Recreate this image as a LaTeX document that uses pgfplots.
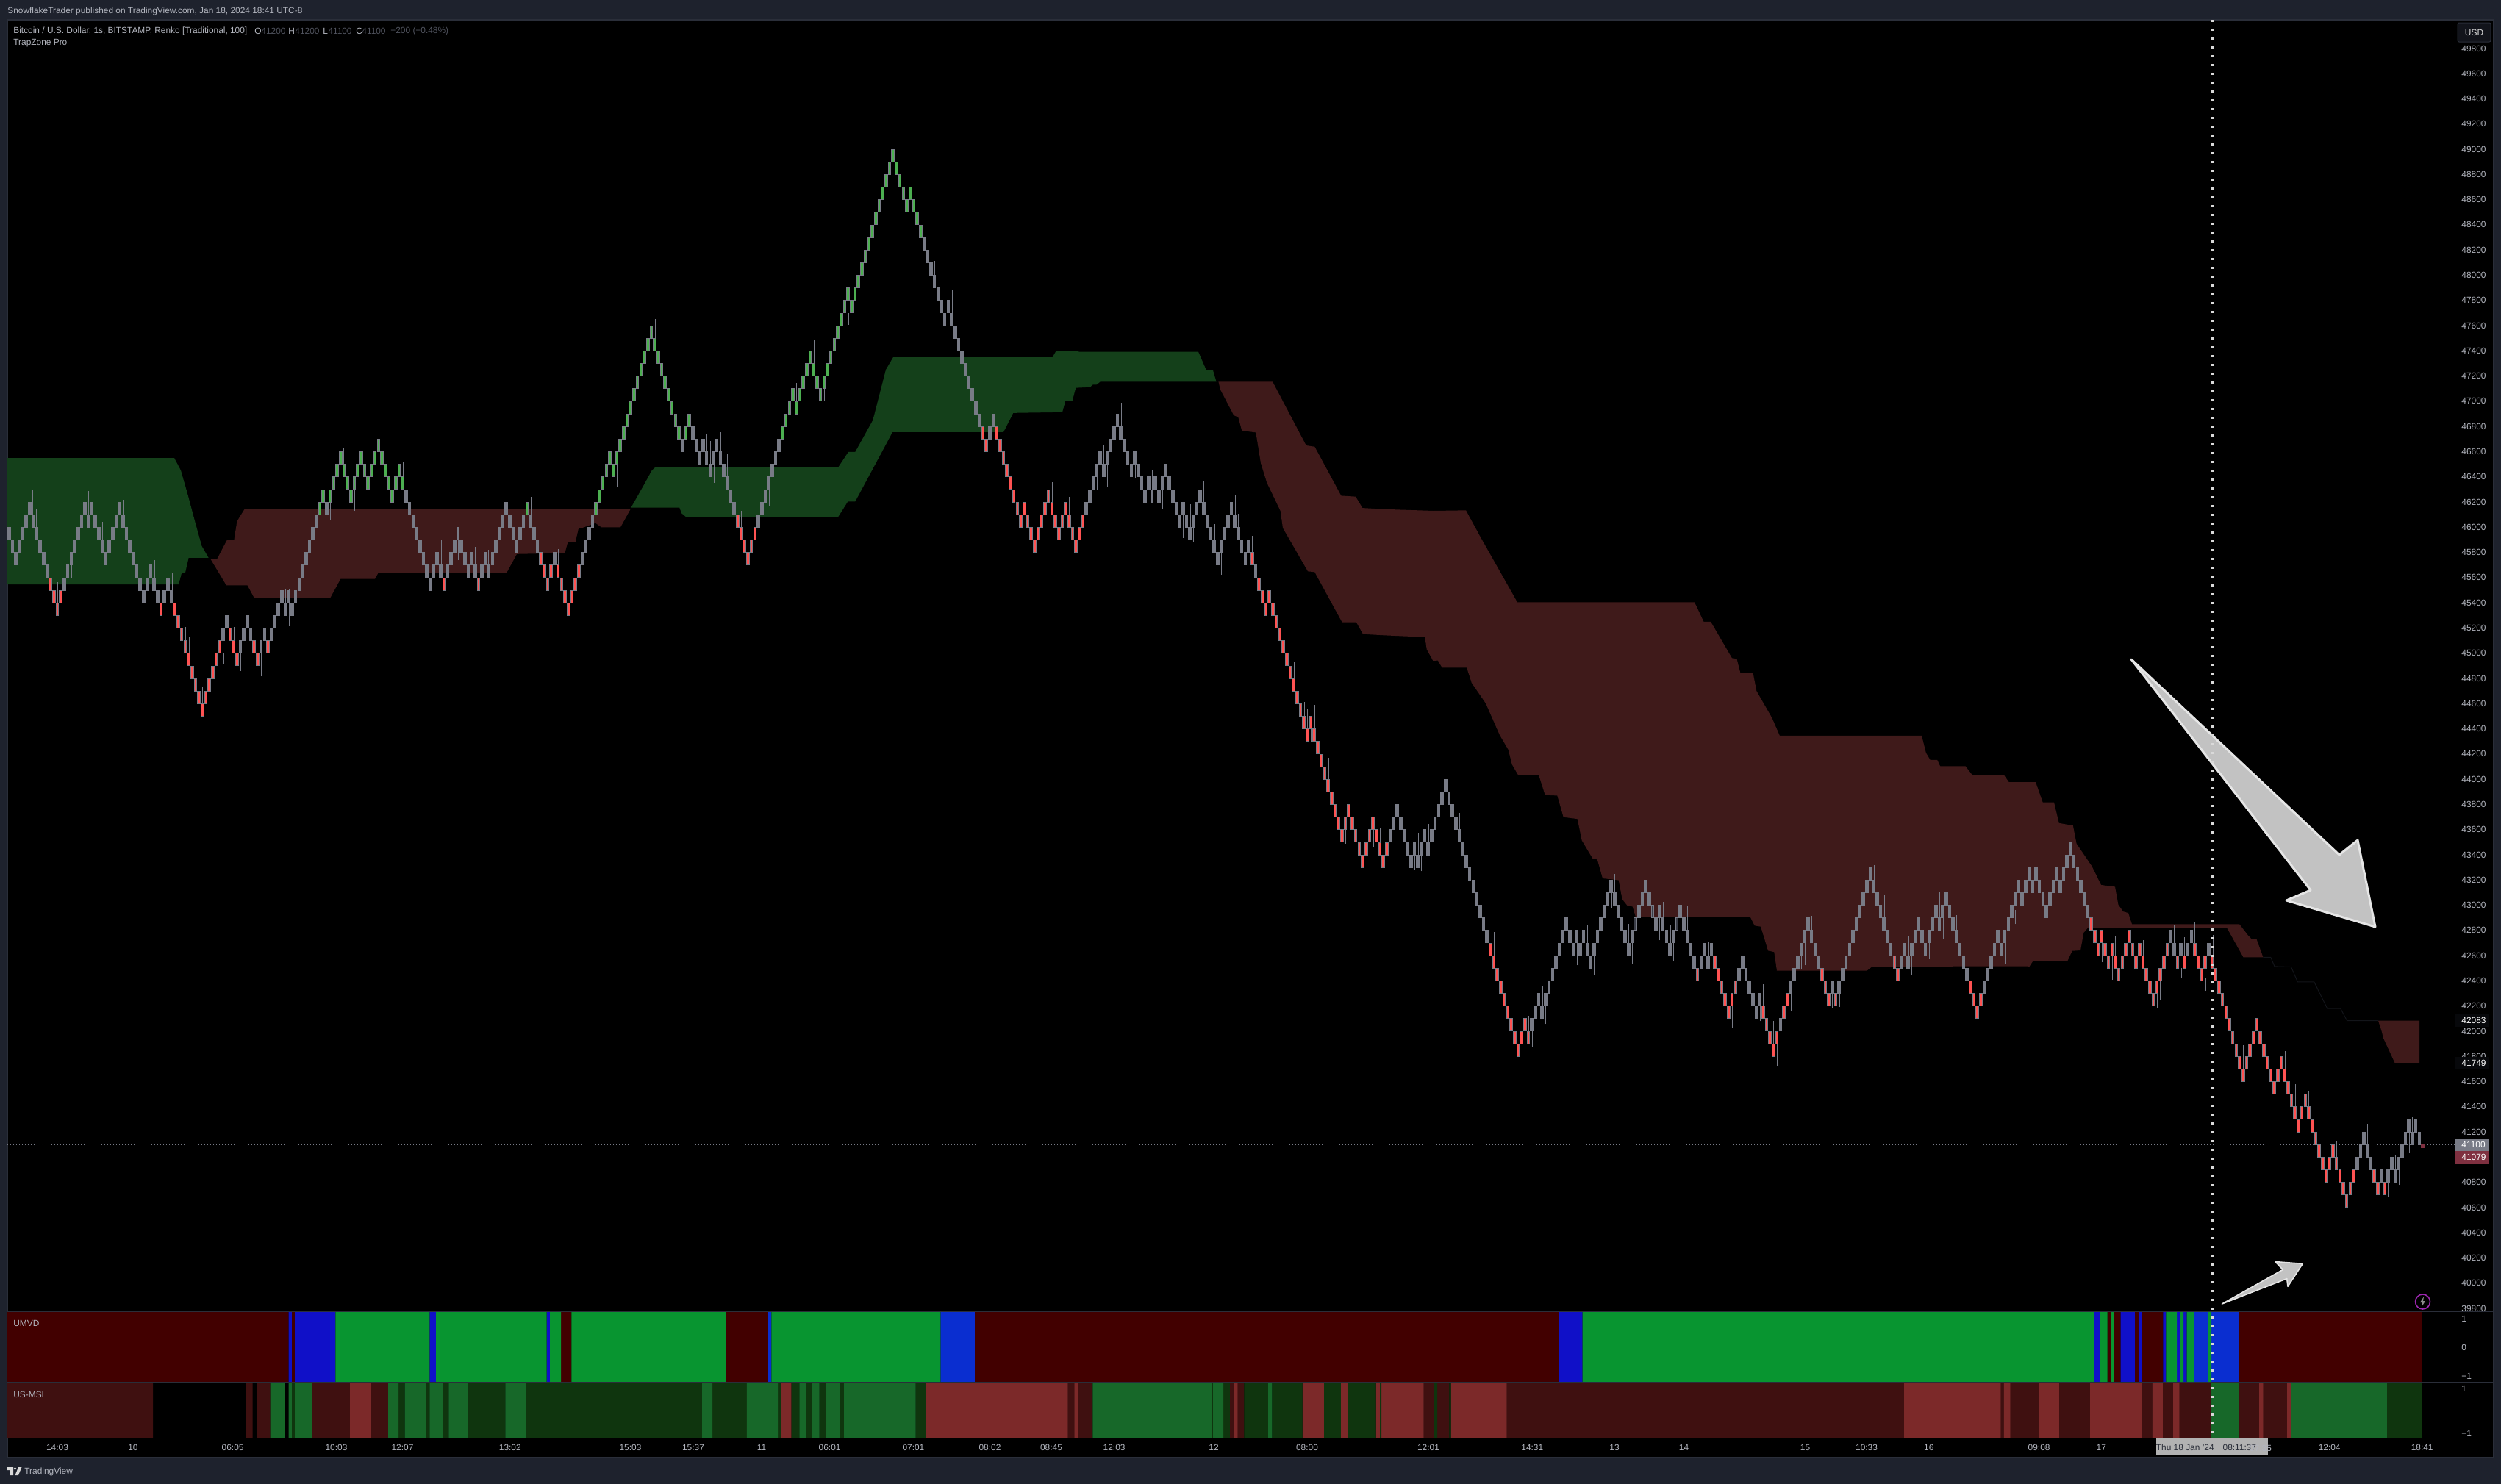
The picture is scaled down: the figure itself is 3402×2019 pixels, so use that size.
\documentclass[border=0pt]{standalone}
\usepackage{fontspec}
\setmainfont{Liberation Sans}
\usepackage{pgfplots}
\pgfplotsset{compat=1.18}
\definecolor{frame}{HTML}{1E222D}
\definecolor{edge}{HTML}{2A2E39}
\definecolor{txt}{HTML}{B2B5BE}
\definecolor{dimtxt}{HTML}{50535E}
\definecolor{brickgray}{HTML}{787B86}
\definecolor{brickdark}{HTML}{3A3D47}
\definecolor{brickred}{HTML}{FF5252}
\definecolor{brickgreen}{HTML}{4CAF50}
\definecolor{cloudgreen}{HTML}{14401A}
\definecolor{cloudred}{HTML}{3F1A1A}
\definecolor{umred}{HTML}{420000}
\definecolor{umblue}{HTML}{1010C8}
\definecolor{umblueb}{HTML}{0A2ED0}
\definecolor{umgreen}{HTML}{089530}
\definecolor{msD}{HTML}{3F1010}
\definecolor{msL}{HTML}{7C2929}
\definecolor{msE}{HTML}{0F350E}
\definecolor{msM}{HTML}{176829}
\definecolor{badgered}{HTML}{7F3040}
\definecolor{iconpurple}{HTML}{9C27B0}
\newcommand\fs{\fontsize{5.95pt}{6.5pt}\selectfont}
\pgfdeclareplotmark{brick}{\pgfpathrectangle{\pgfpoint{-0.9pt}{-4.25pt}}{\pgfpoint{1.8pt}{8.5pt}}\pgfusepathqfillstroke}
\pgfplotsset{panel/.style={scale only axis,width=1666.5pt,xmin=10,xmax=3343,
  axis line style={draw=none},tick style={draw=none},major tick length=0pt,
  scaled y ticks=false,scaled x ticks=false,
  ytick pos=right,yticklabel pos=right,
  yticklabel style={anchor=west,inner sep=0pt,xshift=2.5pt,font=\fs,text=txt},
  xticklabel style={inner sep=0pt,yshift=-4.6pt,font=\fs,text=txt},
  xtick=\empty}}
\begin{document}
\begin{tikzpicture}
\begin{scope}[x=0.5pt,y=-0.5pt]
\path[use as bounding box] (0,0) rectangle (3402,2019);
\fill[frame] (0,0) rectangle (3402,2019);
\fill[black] (10,27) rectangle (3392,1983);
\draw[edge,line width=1pt] (10,27) -- (3392,27) -- (3392,1983) -- (10,1983) -- cycle;
\end{scope}

\begin{axis}[panel,at={(5pt,-892pt)},anchor=south west,height=878.5pt,ymin=39777,ymax=50027,
  ytick={39800,40000,...,49800},
  /pgf/number format/fixed,/pgf/number format/precision=0,/pgf/number format/1000 sep={},/pgf/number format/assume math mode=true]
% cloud
\addplot[fill=cloudgreen,draw=none] coordinates {(10,46550)(237,46550)(246,46451)(256,46246)(264,46071)(274.5,45850)(283.7,45757)(256.6,45757)(252,45640)(247,45634)(243,45546)(10,45546)} --cycle;
\addplot[fill=cloudred,draw=none] coordinates {(286.7,45745)(295,45745)(308.7,45897)(318.4,45897)(322.4,46047)(332.7,46144)(857.7,46144)(844,46000)(818,46000)(810,46033)(790,45991)(787,45991)(782.7,45882)(772.4,45882)(768.4,45795)(703,45787)(688.8,45635)(514.3,45635)(510,45590)(463.3,45590)(449,45437)(346,45437)(336.7,45538)(308,45538)} --cycle;
\addplot[fill=cloudgreen,draw=none] coordinates {(858.3,46155)(876.7,46344)(886.7,46451)(891,46474)(1140,46474)(1154,46597)(1163.3,46597)(1187.3,46849)(1205,47250)(1215,47349)(1431.7,47349)(1436.7,47400)(1463.3,47400)(1468.3,47392)(1630,47392)(1641,47245)(1650,47245)(1654.5,47155)(1560,47155)(1496.7,47155)(1491.7,47132)(1486.7,47132)(1482.7,47112)(1463.3,47106)(1458.7,47003)(1449.3,47003)(1445,46913)(1378.3,46907)(1365,46755)(1214,46755)(1200,46602)(1163.3,46204)(1153.3,46204)(1140,46081)(933.3,46081)(927.3,46110)(924.3,46155)} --cycle;
\addplot[fill=cloudred,draw=none] coordinates {(1657.4,47155)(1731,47155)(1736.7,47092)(1776.7,46649)(1788.3,46639)(1824.3,46250)(1844,46243)(1853.3,46153)(1883.3,46143)(1950,46130)(1994,46134)(2013.3,45927)(2064,45404)(2305,45404)(2317.5,45250)(2327,45250)(2355.8,44962)(2362.5,44955)(2367.3,44844)(2384.5,44844)(2389.3,44700)(2410.3,44487)(2420.8,44346)(2614,44346)(2619.8,44209)(2625.6,44153)(2635.2,44153)(2639,44104)(2673.4,44104)(2683,44032)(2726,44032)(2732.7,43976)(2769,43976)(2778.7,43816)(2794,43816)(2800.7,43652)(2819.8,43632)(2824.6,43488)(2845.6,43308)(2858,43161)(2877,43146)(2881.4,43004)(2888,42950)(2895,42938)(2900,42849)(3046,42850)(3058,42760)(3063,42730)(3069.5,42730)(3078.4,42587)(3051.5,42587)(3029,42822)(2847.8,42822)(2841,42827)(2834.3,42782)(2830,42642)(2818.7,42637)(2812,42554)(2765,42554)(2760.5,42514)(2752.8,42516)(2546.7,42513)(2539.3,42480)(2417,42480)(2413.3,42629)(2405,42639)(2400,42736)(2395,42830)(2386.7,42838)(2381,42905)(2225,42905)(2220.7,42989)(2213.3,42999)(2206.7,43047)(2201.7,43199)(2180,43213)(2172.7,43364)(2166.7,43368)(2151.7,43514)(2145.7,43685)(2126.7,43699)(2118.3,43870)(2101.7,43874)(2093.3,44030)(2065,44034)(2056.7,44117)(2051.7,44234)(2040,44350)(2021,44602)(2001.8,44765)(1995.1,44886)(1961.6,44886)(1955.9,44942)(1949.3,44940)(1940.7,45031)(1938.3,45128)(1883.3,45142)(1854,45152)(1845,45245)(1825.7,45245)(1788.3,45644)(1779,45650)(1745,45994)(1741.7,46130)(1723.3,46353)(1715,46509)(1708.3,46752)(1689.3,46766)(1684.3,46873)(1678.3,46888)(1660,47092)} --cycle;
\addplot[fill=cloudred,draw=none] coordinates {(3235,42083)(3291,42083)(3291,41749)(3257.5,41749)(3242,41945)(3239.6,42000)} --cycle;
\addplot[color=edge!45!black,line width=.5pt] coordinates {(3078.4,42587)(3088.7,42587)(3094,42514)(3116.5,42510)(3125.4,42391)(3147.8,42391)(3165.7,42180)(3183.7,42180)(3192.6,42083)(3235,42083)};
\addplot[color=brickgray,line width=.5pt,dash pattern=on .5pt off 1.5pt] coordinates {(10,41100)(3343,41100)};
% wicks
\addplot[draw=none,mark=none,error bars/.cd,y dir=plus,y explicit,error mark=none,error bar style={line width=.5pt,draw=brickgray,solid}] table[x=x,y=lo,y error plus expr=\thisrow{hi}-\thisrow{lo},row sep=\\]{
x lo hi\\
44.9 46100 46295\\50 46000 46143\\78.6 45400 45566\\97 45600 45702\\111 45867 46000\\120.4 46100 46285\\130 46100 46233\\139.3 45900 46042\\149 45650 45800\\167 46100 46217\\210.7 45600 45737\\234 45500 45638\\252 45100 45206\\257.7 45000 45128\\275.5 44600 44735\\304.6 44918 45000\\318.4 45100 45206\\327.6 44860 45000\\341.3 45200 45400\\355.6 44817 45000\\388 45400 45507\\393 45214 45508\\398 45300 45570\\402.6 45249 45400\\449 46062 46200\\467.8 46400 46626\\482.7 46130 46300\\534.7 46300 46480\\548.5 46400 46519\\600.5 45700 45896\\623.5 45740 46000\\646.4 45700 45844\\664.8 45700 45819\\722.4 46100 46240\\759.7 45700 45828\\
806.3 45809 46000\\839.7 46324 46500\\881.7 47281 47400\\891.3 47500 47652\\942.3 46800 46950\\961.7 46600 46742\\966.3 46500 46684\\971.3 46353 46500\\980.3 46600 46752\\989.3 46400 46587\\1008.3 46000 46130\\1036.3 45974 46100\\1046.3 46168 46300\\1083.3 47000 47143\\1107.3 47300 47481\\1121.7 47000 47100\\1154.3 47607 47700\\
1271.3 48000 48113\\1295.3 47700 47886\\1327.3 47000 47160\\1346.3 46552 46700\\1431.3 46200 46357\\1436.3 46100 46256\\1454.3 46100 46241\\1492.3 46295 46400\\1501.3 46500 46655\\1506.3 46324 46500\\1525.3 46800 46985\\1544.3 46392 46500\\
1550.7 46400 46500\\1567.3 46300 46455\\1572.3 46149 46200\\1576.7 46300 46490\\1581.7 46143 46300\\1609.7 45916 46100\\1614.3 46100 46256\\1619.3 46000 46182\\1623.3 45887 46000\\1637.3 46200 46363\\1652.3 45900 46023\\1661.3 45624 45800\\1670.7 45857 46000\\1680.3 46100 46252\\1684 46000 46106\\1703.3 45800 45930\\1708.3 45700 45877\\1731.3 45400 45562\\1760.3 44800 44928\\1774.3 44500 44613\\1778.3 44400 44560\\1783 44292 44400\\1788.3 44400 44588\\
1807.3 44000 44170\\1830.3 43489 43600\\1868.3 43466 43600\\1877.3 43500 43611\\1886.3 43285 43400\\1924.3 43281 43400\\1929.3 43400 43573\\1933 43269 43400\\1943.3 43500 43644\\1980.3 43700 43860\\1985.3 43600 43732\\1999.3 43300 43450\\2032.3 42600 42785\\2079.3 42000 42124\\2084.3 41875 42000\\2098.3 42200 42357\\2102.3 42056 42200\\2135.7 42800 42960\\2145.3 42522 42700\\2150 42700 42824\\2159.3 42700 42838\\2168.3 42445 42600\\2196.3 43100 43246\\2192.3 42980 43100\\2215.3 42700 42853\\
2220.3 42532 42700\\2248.3 43000 43187\\2257.3 42721 42900\\2262.3 42900 43024\\2272.3 42700 42837\\2276.3 42561 42700\\2290.3 42900 43059\\2295.3 42800 42989\\2323.3 42600 42707\\2356.3 42025 42200\\2394.3 42079 42300\\2398.3 42200 42371\\2412.7 41900 42079\\2417.3 41725 41900\\2436.7 42163 42300\\2450.7 42493 42600\\2455.3 42522 42700\\2464.3 42800 42913\\2492.3 42182 42300\\2497.7 42300 42429\\2502.3 42192 42300\\2549.3 43200 43316\\2563.3 42900 43082\\2596.3 42600 42756\\2600.3 42450 42600\\2614.3 42800 42902\\2624.3 42571 42700\\2638.3 42900 43100\\2643.3 42730 42900\\2652.3 43000 43129\\2661.3 42800 42921\\2694.3 42071 42200\\
2727.3 42532 42800\\2741.2 42849 42960\\2769.4 42838 43100\\2788.2 42836 42985\\2859 42548 42700\\2863 42600 42822\\2873.3 42407 42600\\2877.3 42600 42760\\2886.7 42363 42500\\2901.5 42700 42898\\2915.4 42600 42726\\2934.7 42180 42300\\2938.7 42253 42400\\2957.5 42700 42845\\2962.4 42600 42782\\2967.4 42421 42500\\2971.4 42600 42749\\2985.7 42700 42871\\3000 42320 42425\\3010 42600 42764\\3037.2 42000 42128\\3051.5 41700 41889\\3094 41500 41600\\3098.6 41459 41600\\3108.4 41700 41845\\3122.3 41400 41577\\3140.2 41400 41528\\3169.3 40789 40900\\3178.7 41000 41124\\3220.4 41100 41264\\3245 40800 40952\\3248.6 40689 40800\\3258.4 40900 41012\\3263.4 40778 40900\\3277.7 41034 41200\\3281.7 41200 41320\\3286.7 41068 41200\\
};
% renko bricks, in order: mid price and colour class
\addplot[scatter,only marks,mark=brick,line width=.4pt,scatter src=explicit symbolic,
  scatter/classes={k={mark=brick,draw=brickgray,fill=brickgray},r={mark=brick,draw=brickgray,fill=brickred},g={mark=brick,draw=brickgray,fill=brickgreen},d={mark=brick,draw=brickgray,fill=brickdark}}]
  table[x expr=12.2+4.697*\coordindex,y=p,meta=c,row sep=\\]{
p c\\
45950 k\\45850 k\\45750 k\\45850 k\\45950 k\\46050 k\\46150 k\\46050 k\\45950 k\\45850 k\\45750 k\\45650 k\\
45550 r\\45450 r\\45350 r\\45450 r\\45550 k\\45650 k\\45750 k\\45850 k\\45950 k\\46050 k\\46150 k\\46050 k\\46150 k\\46050 k\\45950 k\\45850 k\\45750 k\\45850 k\\45950 k\\46050 k\\46150 k\\46050 k\\45950 k\\45850 k\\45750 k\\45650 k\\45550 k\\45450 k\\45550 k\\45650 k\\45550 k\\45450 k\\45350 r\\45450 k\\45550 k\\45450 k\\45350 r\\45250 r\\45150 r\\45050 r\\44950 r\\44850 r\\44750 r\\44650 r\\44550 r\\44650 r\\44750 r\\44850 r\\44950 r\\45050 r\\45150 k\\45250 k\\45150 r\\45050 r\\44950 r\\45050 k\\45150 k\\45250 k\\45150 k\\45050 r\\44950 r\\45050 k\\45150 k\\45050 r\\45150 k\\45250 k\\45350 k\\45450 k\\45350 k\\45450 k\\45350 k\\45450 k\\45550 k\\45650 k\\45750 k\\45850 k\\45950 k\\46050 k\\46150 g\\46250 g\\46150 k\\46250 g\\46350 g\\46450 g\\46550 g\\46450 g\\46350 g\\46250 g\\46350 g\\46450 g\\46550 g\\46450 g\\46350 g\\46450 g\\46550 g\\46650 g\\46550 g\\46450 g\\46350 g\\46250 g\\46350 g\\46450 g\\46350 g\\46250 k\\46150 k\\46050 k\\45950 k\\45850 k\\45750 k\\45650 k\\45550 k\\45650 k\\45750 k\\45650 k\\45550 r\\45650 k\\45750 k\\45850 k\\45950 k\\45850 k\\45750 k\\45650 k\\45750 k\\45650 k\\45550 r\\45650 k\\45750 k\\45650 k\\45750 k\\45850 k\\45950 k\\46050 k\\46150 k\\46050 k\\45950 k\\45850 k\\45950 k\\46050 k\\46150 g\\46050 k\\45950 k\\45850 k\\45750 r\\45650 r\\45550 r\\45650 r\\45750 k\\45650 r\\45550 r\\45450 r\\45350 r\\45450 r\\45550 r\\45650 r\\45750 k\\45850 k\\
45950 k\\46050 k\\46150 g\\46250 g\\46350 g\\46450 g\\46550 g\\46450 g\\46550 g\\46650 g\\46750 g\\46850 g\\46950 g\\47050 g\\47150 g\\47250 g\\47350 g\\47450 g\\47550 g\\47450 g\\47350 g\\47250 g\\47150 g\\47050 g\\46950 g\\46850 g\\46750 g\\46650 k\\46750 g\\46850 g\\46750 k\\46650 k\\46550 k\\46650 k\\46550 k\\46450 k\\46550 k\\46650 k\\46550 k\\46450 k\\46350 k\\46250 k\\46150 k\\46050 r\\45950 r\\45850 r\\45750 r\\45850 r\\45950 r\\46050 k\\46150 k\\46250 k\\46350 k\\46450 k\\46550 k\\46650 k\\46750 g\\46850 g\\46950 g\\47050 g\\46950 g\\47050 g\\47150 g\\47250 g\\47350 g\\47250 g\\47150 g\\47050 g\\47150 g\\47250 g\\47350 g\\47450 g\\47550 g\\47650 g\\47750 g\\47850 g\\47750 g\\47850 g\\47950 g\\48050 g\\48150 g\\48250 g\\48350 g\\48450 g\\48550 g\\
48650 g\\48750 g\\48850 g\\48950 g\\48850 g\\48750 g\\48650 g\\48550 g\\48650 g\\48550 g\\48450 g\\48350 g\\48250 k\\48150 k\\48050 k\\47950 k\\47850 k\\47750 k\\47650 k\\47750 k\\47650 k\\47550 k\\47450 k\\47350 k\\47250 k\\47150 k\\47050 k\\46950 k\\46850 k\\46750 r\\46650 r\\46750 k\\46850 k\\46750 r\\46650 r\\46550 r\\46450 r\\46350 r\\46250 r\\46150 r\\46050 r\\46150 r\\46050 r\\45950 r\\45850 r\\45950 r\\46050 r\\46150 r\\46250 r\\46150 r\\46050 r\\45950 r\\46050 r\\46150 r\\46050 r\\45950 r\\45850 r\\45950 r\\46050 r\\46150 k\\46250 k\\46350 k\\46450 k\\46550 k\\46450 k\\46550 k\\46650 k\\46750 k\\46850 k\\46750 k\\46650 k\\46550 k\\46450 k\\46550 k\\46450 k\\46350 k\\46250 k\\
46350 k\\46250 k\\46350 k\\46250 k\\46350 k\\46450 k\\46350 k\\46250 k\\46150 k\\46050 k\\46150 k\\46050 k\\45950 k\\46050 k\\46150 k\\46250 k\\46150 k\\46050 k\\45950 k\\45850 k\\45750 k\\45850 k\\45950 k\\46050 k\\46150 k\\46050 k\\45950 k\\45850 k\\45750 k\\45850 k\\45750 r\\45650 k\\45550 r\\45450 r\\45350 r\\45450 r\\45350 r\\45250 r\\45150 r\\45050 r\\44950 r\\44850 r\\44750 r\\44650 r\\44550 r\\44450 r\\44350 r\\44450 r\\44350 r\\44250 r\\44150 r\\44050 r\\
43950 r\\43850 r\\43750 r\\43650 r\\43550 r\\43650 r\\43750 r\\43650 r\\43550 r\\43450 r\\43350 r\\43450 r\\43550 r\\43650 r\\43550 r\\43450 r\\43350 r\\43450 r\\43550 k\\43650 k\\43750 k\\43650 k\\43550 k\\43450 k\\43350 k\\43450 k\\43350 k\\43450 k\\43550 k\\43450 k\\43550 k\\43650 k\\43750 k\\43850 k\\43950 k\\43850 k\\43750 k\\43650 k\\43550 k\\43450 k\\43350 k\\43250 k\\43150 k\\43050 k\\42950 k\\42850 k\\42750 k\\42650 r\\42550 r\\42450 r\\42350 r\\42250 r\\42150 r\\42050 r\\41950 r\\41850 r\\41950 r\\42050 r\\41950 r\\42050 k\\42150 k\\42250 k\\42150 k\\42250 k\\42350 k\\42450 k\\42550 k\\42650 k\\42750 k\\42850 k\\42750 k\\42650 k\\42750 k\\42650 k\\42750 k\\42650 k\\42550 k\\42650 k\\42750 k\\42850 k\\42950 k\\43050 k\\43150 k\\43050 k\\42950 k\\42850 k\\42750 k\\42650 k\\
42750 k\\42850 d\\42950 k\\43050 k\\43150 k\\43050 k\\42950 d\\42850 k\\42950 k\\42850 k\\42750 k\\42650 k\\42750 k\\42850 d\\42950 k\\42850 k\\42750 k\\42650 k\\42550 k\\42450 r\\42550 k\\42650 k\\42550 k\\42650 k\\42550 r\\42450 r\\42350 r\\42250 r\\42150 r\\42250 r\\42350 r\\42450 k\\42550 k\\42450 k\\42350 k\\42250 k\\42150 k\\42250 k\\42150 r\\42050 r\\41950 r\\41850 r\\41950 r\\42050 k\\42150 r\\42250 r\\42350 k\\42450 k\\42550 k\\42650 k\\42750 k\\42850 k\\42750 k\\42650 k\\42550 k\\42450 r\\42350 r\\42250 r\\42350 k\\42250 r\\42350 k\\42450 k\\42550 k\\42650 k\\42750 k\\42850 k\\42950 k\\43050 k\\43150 k\\43250 k\\43150 k\\43050 k\\42950 k\\42850 k\\42750 k\\42650 k\\42550 r\\42450 r\\42550 k\\42650 k\\42550 k\\42650 k\\42750 k\\42850 k\\42750 k\\42650 k\\42750 k\\42850 k\\42950 k\\42850 k\\42950 k\\43050 k\\42950 k\\42850 k\\42750 k\\42650 k\\42550 k\\42450 k\\42350 r\\42250 r\\42150 r\\42250 r\\42350 k\\42450 k\\42550 k\\42650 k\\42750 k\\
42650 k\\42750 k\\42850 k\\42950 k\\43050 k\\43150 k\\43050 k\\43150 k\\43250 k\\43150 k\\43250 k\\43150 k\\43050 k\\42950 k\\43050 k\\43150 k\\43250 k\\43150 k\\43250 k\\43350 k\\43450 k\\43350 k\\43250 k\\43150 k\\43050 k\\42950 k\\42850 r\\
42750 r\\42650 r\\42750 r\\42650 r\\42550 r\\42650 r\\42550 r\\42450 r\\42550 r\\42650 r\\42750 r\\42650 r\\42550 r\\42650 r\\42550 r\\42450 r\\42350 r\\42250 r\\42350 r\\42450 r\\42550 r\\42650 r\\42750 k\\42650 k\\42550 r\\42650 k\\42550 r\\42650 k\\42750 k\\42650 r\\42550 r\\42450 r\\42550 r\\42650 k\\42550 r\\42450 r\\42350 r\\42250 r\\42150 r\\42050 r\\41950 r\\41850 r\\41750 r\\41650 r\\41750 r\\41850 r\\41950 r\\42050 r\\41950 r\\41850 r\\41750 r\\41650 r\\41550 r\\41650 r\\41750 r\\41650 r\\41550 r\\41450 r\\41350 r\\41250 r\\41350 r\\41450 r\\41350 r\\41250 r\\41150 r\\41050 r\\40950 r\\40850 r\\40950 r\\41050 r\\40950 r\\40850 r\\40750 r\\40650 r\\40750 r\\40850 r\\40950 k\\41050 k\\41150 k\\41050 k\\40950 k\\40850 r\\40750 r\\40850 k\\40750 r\\40850 k\\40950 k\\40850 k\\40950 k\\41050 k\\41150 k\\41250 k\\41150 k\\41250 k\\41150 k\\
};
\addplot[only marks,mark=square*,mark size=1pt,color=badgered] coordinates {(3295.6,41085)};
\end{axis}

\begin{axis}[panel,at={(5pt,-940.5pt)},anchor=south west,height=48.5pt,ymin=-1.23,ymax=1.256,
  ytick={-1,0,1},yticklabels={−1,0,1}]
\addplot[const plot,fill=umred,draw=none] coordinates {(10,-2)(10,2)(392.5,-2)(396.8,2)(401,-2)(763.2,2)(777.3,-2)(987.6,2)(1044,-2)(1325.9,2)(2120,-2)(2866.6,2)(2871,-2)(2875.5,2)(2884.5,-2)(2903.8,2)(2909,-2)(2913.6,2)(2942.3,-2)(3045.3,2)(3294.3,-2)} --cycle;
\addplot[const plot,fill=umblue,draw=none] coordinates {(392.5,-2)(392.5,2)(396.8,-2)(401,2)(456.4,-2)(584.3,2)(593,-2)(743.7,2)(748,-2)(2120,2)(2152.7,-2)(2847.8,2)(2857.2,-2)(2884.5,2)(2903.8,-2)(2909,2)(2913.6,-2)(2942.3,2)(2946.3,-2)(2961,2)(2965,-2)(2970,2)(2974.5,-2)} --cycle;
\addplot[const plot,fill=umblueb,draw=none] coordinates {(1044,-2)(1044,2)(1049.4,-2)(1279.3,2)(1325.9,-2)(2984,2)(3003,-2)(3008,2)(3045.3,-2)} --cycle;
\addplot[const plot,fill=umgreen,draw=none] coordinates {(456.4,-2)(456.4,2)(584.3,-2)(593,2)(743.7,-2)(748,2)(763.2,-2)(777.3,2)(987.6,-2)(1049.4,2)(1279.3,-2)(2152.7,2)(2847.8,-2)(2857.2,2)(2866.6,-2)(2871,2)(2875.5,-2)(2946.3,2)(2961,-2)(2965,2)(2970,-2)(2974.5,2)(2984,-2)(3003,2)(3008,-2)} --cycle;
\end{axis}

\begin{axis}[panel,at={(5pt,-978pt)},anchor=south west,height=37.5pt,ymin=-1.197,ymax=1.262,
  ytick={-1,1},yticklabels={−1,1},
  xtick={78,181,316.6,457.5,547.5,693.8,857.5,943,1036,1128.6,1242.4,1346.5,1430,1515.6,1651,1778,1943,2084.3,2196,2290.5,2455.5,2539,2623.8,2773.6,2858.3,3168.7,3294.7},
  xticklabels={14:03,10,06:05,10:03,12:07,13:02,15:03,15:37,11,06:01,07:01,08:02,08:45,12:03,12,08:00,12:01,14:31,13,14,15,10:33,16,09:08,17,12:04,18:41}]
\addplot[const plot,fill=msD,draw=none] coordinates {(10,-2)(10,2)(208.2,-2)(335,2)(343.7,-2)(349,2)(367.5,-2)(423.9,2)(476,-2)(504,2)(528,-2)(1452.7,2)(1461.4,-2)(1466.8,2)(1486.3,-2)(1672.8,2)(1678.2,-2)(1683.6,2)(1692.3,-2)(1936.6,2)(1950.8,-2)(1955,2)(1971.4,-2)(2049.5,2)(2590.1,-2)(2721.5,2)(2725.8,-2)(2734.5,2)(2773.6,-2)(2800.8,2)(2843,-2)(2913.6,2)(2927.7,-2)(2941.9,2)(2956,-2)(2964.6,2)(3008,-2)(3045,2)(3073.2,-2)(3078.6,2)(3111.2,-2)} --cycle;
\addplot[const plot,fill=msL,draw=none] coordinates {(476,-2)(476,2)(504,-2)(1062.4,2)(1076.5,-2)(1259.8,2)(1452.7,-2)(1461.4,2)(1466.8,-2)(1678.2,2)(1683.6,-2)(1771.6,2)(1801,-2)(1823.8,2)(1833.5,-2)(1871.5,2)(1877,-2)(1879,2)(1936.6,-2)(1973.6,2)(2049.5,-2)(2590.1,2)(2721.5,-2)(2725.8,2)(2734.5,-2)(2773.6,2)(2800.8,-2)(2843,2)(2913.6,-2)(2927.7,2)(2941.9,-2)(2956,2)(2964.6,-2)(3073.2,2)(3078.6,-2)(3111.2,2)(3116.6,-2)} --cycle;
\addplot[const plot,fill=msE,draw=none] coordinates {(396.8,-2)(396.8,2)(401,-2)(542,2)(550.7,-2)(578.9,2)(584.3,-2)(602.8,2)(610.4,-2)(636.4,2)(687.3,-2)(715.5,2)(955,-2)(969.2,2)(1015.8,-2)(1058,2)(1062.4,-2)(1076.5,2)(1087.4,-2)(1096,2)(1104.7,-2)(1114.5,2)(1124.2,-2)(1142.7,2)(1148,-2)(1245.7,2)(1259.8,-2)(1647.9,2)(1650,-2)(1664,2)(1672.8,-2)(1692.3,2)(1725,-2)(1730.4,2)(1771.6,-2)(1801,2)(1823.8,-2)(1833.5,2)(1871.5,-2)(1877,2)(1879,-2)(1950.8,2)(1955,-2)(1971.4,2)(1973.6,-2)(3246.9,2)(3294.7,-2)} --cycle;
\addplot[const plot,fill=msM,draw=none] coordinates {(367.5,-2)(367.5,2)(387,-2)(392.5,2)(396.8,-2)(401,2)(423.9,-2)(528,2)(542,-2)(550.7,2)(578.9,-2)(584.3,2)(602.8,-2)(610.4,2)(636.4,-2)(687.3,2)(715.5,-2)(955,2)(969.2,-2)(1015.8,2)(1058,-2)(1087.4,2)(1096,-2)(1104.7,2)(1114.5,-2)(1124.2,2)(1142.7,-2)(1148,2)(1245.7,-2)(1486.3,2)(1647.9,-2)(1650,2)(1664,-2)(1725,2)(1730.4,-2)(3008,2)(3045,-2)(3116.6,2)(3246.9,-2)} --cycle;
\end{axis}

\begin{scope}[x=0.5pt,y=-0.5pt,every node/.style={inner sep=0pt,font=\fs}]
\draw[edge,line width=1pt] (10,1784) -- (3392,1784);
\draw[edge,line width=1pt] (10,1881) -- (3392,1881);
% arrows
\filldraw[fill=black!24,draw=white!90!black,line width=1.5pt,line join=round] (2899,897) -- (3143,1211) -- (3110,1225) -- (3231,1261) -- (3207,1143) -- (3182,1163) -- cycle;
\filldraw[fill=black!24,draw=white!90!black,line width=.8pt,line join=round] (3022.4,1774) -- (3105.3,1727.4) -- (3095,1716.6) -- (3132.2,1719.3) -- (3112,1750.3) -- (3110.7,1739.6) -- cycle;
% crosshair
\draw[black!15,line width=1.7pt,dash pattern=on 1.5pt off 4.5pt] (3009,27) -- (3009,1956);
% texts
\node[anchor=west,text=txt] at (10,15) {SnowflakeTrader published on TradingView.com, Jan 18, 2024 18:41 UTC-8};
\node[anchor=west,text=txt] at (18,42) {Bitcoin / U.S. Dollar, 1s, BITSTAMP, Renko [Traditional, 100]};
\node[anchor=west,text=txt] at (346,42) {O};
\node[anchor=west,text=dimtxt] at (355,42) {41200};
\node[anchor=west,text=txt] at (392,42) {H};
\node[anchor=west,text=dimtxt] at (401,42) {41200};
\node[anchor=west,text=txt] at (439,42) {L};
\node[anchor=west,text=dimtxt] at (446,42) {41100};
\node[anchor=west,text=txt] at (484,42) {C};
\node[anchor=west,text=dimtxt] at (492,42) {41100};
\node[anchor=west,text=dimtxt] at (531,42) {−200 (−0.48\%)};
\node[anchor=west,text=txt] at (18,59) {TrapZone Pro};
\node[anchor=west,text=txt] at (18,1800) {UMVD};
\node[anchor=west,text=txt] at (18,1897) {US-MSI};
% price badges
\filldraw[fill=frame!60!black,rounded corners=1pt,draw=edge,line width=.5pt] (3343,31) rectangle (3388,57);
\node[text=black!15] at (3365.5,44) {USD};
\fill[black!75!frame] (3340.4,1380) rectangle (3385,1397);
\node[anchor=west,text=white] at (3348,1388.5) {42083};
\fill[black!75!frame] (3340.4,1438) rectangle (3385,1454.5);
\node[anchor=west,text=white] at (3348,1446.3) {41749};
\fill[brickgray] (3340.4,1549) rectangle (3385,1566);
\node[anchor=west,text=white] at (3348,1557.5) {41100};
\fill[badgered] (3340.4,1566) rectangle (3385,1582.7);
\node[anchor=west,text=white] at (3348,1574.5) {41079};
% icon
\draw[iconpurple,line width=.8pt] (3295.5,1771) circle (10);
\fill[black!45] (3297,1764) -- (3292,1772) -- (3295,1772) -- (3294,1778) -- (3299,1770) -- (3296,1770) -- cycle;
% crosshair time label
\fill[black!30] (2933,1956) rectangle (3085,1980);
\node[text=edge] at (3001,1969) {Thu 18 Jan '24\hspace{6pt}08:11:37};
\node[text=txt] at (3075,1970) {07:35};
% footer logo
\fill[black!15] (10,1996) -- (18,1996) -- (18,2007) -- (14,2007) -- (14,2000) -- (10,2000) -- cycle;
\fill[black!15] (20.5,1998) circle (1.9);
\fill[black!15] (25,1996) -- (29.5,1996) -- (25,2007) -- (20.5,2007) -- cycle;
\node[anchor=west,text=txt] at (33,2002) {TradingView};
\end{scope}
\end{tikzpicture}
\end{document}
